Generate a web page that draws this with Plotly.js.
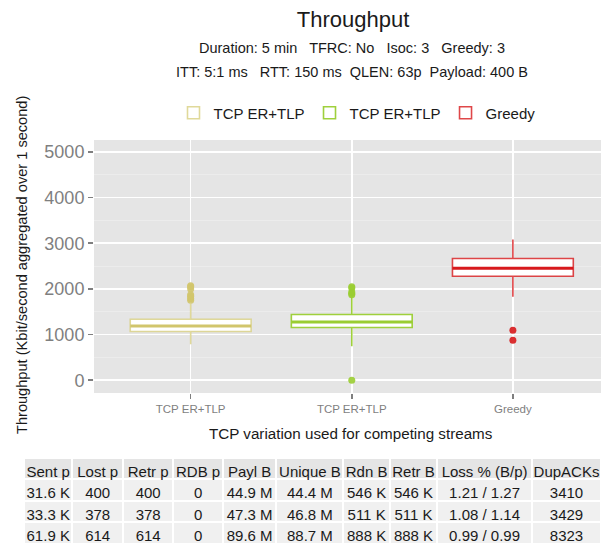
<!DOCTYPE html>
<html>
<head>
<meta charset="utf-8">
<script src="https://cdn.plot.ly/plotly-3.0.1.min.js"></script>
<style>html,body{margin:0;padding:0;background:#fff;}#chart{width:601px;height:549px;}</style>
</head>
<body>
<div id="chart"></div>
<script>
// ---- data ----
const categories = ['TCP ER+TLP', 'TCP ER+TLP', 'Greedy'];
const seriesNames = ['TCP ER+TLP', 'TCP ER+TLP', 'Greedy'];
const q1 = [1066, 1154, 2277];
const medians = [1189, 1277, 2452];
const q3 = [1335, 1438, 2664];
const lowerWhisker = [788, 744, 1825];
const upperWhisker = [1680, 1825, 3081];
const outliersTcp1 = [1750, 1790, 1840, 1870, 2000, 2044, 2070];
const outliersTcp2 = [1870, 1900, 1930, 2020, 2044, 0];
const outliersGreedy = [1095, 876];
const yTickValues = [0, 1000, 2000, 3000, 4000, 5000];

const tableHeader = ['Sent p', 'Lost p', 'Retr p', 'RDB p', 'Payl B', 'Unique B', 'Rdn B', 'Retr B', 'Loss % (B/p)', 'DupACKs'];
const sentP = ['31.6 K', '33.3 K', '61.9 K'];
const lostP = ['400', '378', '614'];
const retrP = ['400', '378', '614'];
const rdbP = ['0', '0', '0'];
const paylB = ['44.9 M', '47.3 M', '89.6 M'];
const uniqueB = ['44.4 M', '46.8 M', '88.7 M'];
const rdnB = ['546 K', '511 K', '888 K'];
const retrB = ['546 K', '511 K', '888 K'];
const lossPct = ['1.21 / 1.27', '1.08 / 1.14', '0.99 / 0.99'];
const dupAcks = ['3410', '3429', '8323'];

// ---- styles ----
const W = 601, H = 549;
const FONT = 'Liberation Sans, Arial, sans-serif';
const lineColors = ['rgba(214,204,120,0.75)', 'rgba(154,205,50,0.95)', 'rgba(215,25,28,0.8)'];
const solidColors = ['#d1c56c', '#9acd32', '#d7191c'];
const outlierSets = [outliersTcp1, outliersTcp2, outliersGreedy];
const xpos = categories.map((c, i) => i);
const nb = s => String(s).replace(/ /g, '\u00a0');

const traces = [];
categories.forEach((c, i) => {
  traces.push({
    type: 'box', name: seriesNames[i], x: [xpos[i]],
    q1: [q1[i]], median: [medians[i]], q3: [q3[i]],
    lowerfence: [lowerWhisker[i]], upperfence: [upperWhisker[i]],
    width: 0.75, fillcolor: '#ffffff',
    line: {color: lineColors[i], width: 1.6},
    whiskerwidth: 0, boxpoints: false, hoverinfo: 'skip'
  });
});
// thicker median lines
categories.forEach((c, i) => {
  traces.push({
    type: 'box', showlegend: false, x: [xpos[i]],
    q1: [medians[i]], median: [medians[i]], q3: [medians[i]],
    lowerfence: [medians[i]], upperfence: [medians[i]],
    width: 0.75, fillcolor: 'rgba(0,0,0,0)',
    line: {color: solidColors[i], width: 3},
    whiskerwidth: 0, boxpoints: false, hoverinfo: 'skip'
  });
});
// outliers
categories.forEach((c, i) => {
  traces.push({
    type: 'scatter', mode: 'markers', showlegend: false,
    x: outlierSets[i].map(() => xpos[i]), y: outlierSets[i],
    marker: {color: solidColors[i], size: 7, opacity: 0.9},
    hoverinfo: 'skip'
  });
});
// table
const tableCols = [sentP, lostP, retrP, rdbP, paylB, uniqueB, rdnB, retrB, lossPct, dupAcks];
traces.push({
  type: 'table',
  domain: {x: [24 / W, 1], y: [0, 1 - 458 / H]},
  columnwidth: [47, 49, 49, 48, 52, 65, 45, 46, 92, 67],
  header: {
    values: tableHeader.map(nb), align: 'center', height: 21,
    fill: {color: '#e5e5e5'}, line: {color: '#ffffff', width: 2},
    font: {family: FONT, size: 15, color: '#1a1a1a'}
  },
  cells: {
    values: tableCols.map(col => col.map(nb)),
    align: 'center', height: 21.5,
    fill: {color: '#f0f0f0'}, line: {color: '#ffffff', width: 2},
    font: {family: FONT, size: 15, color: '#1a1a1a'}
  }
});

const plotLeft = 94, plotTop = 140, plotBottom = 393;
const sp = '\u00a0';
const layout = {
  width: W, height: H,
  margin: {l: 0, r: 0, t: 0, b: 0},
  paper_bgcolor: '#ffffff', plot_bgcolor: '#e5e5e5',
  font: {family: FONT, color: '#1a1a1a'},
  title: {text: 'Throughput', x: 353 / W, xanchor: 'center', y: 1 - 19 / H, yanchor: 'middle', yref: 'container',
          font: {size: 22, color: '#1a1a1a'}},
  showlegend: true,
  legend: {orientation: 'h', x: 357 / W, xanchor: 'center', y: 1 - 113 / H, yanchor: 'middle',
           font: {size: 15, color: '#1a1a1a'}, bgcolor: 'rgba(0,0,0,0)'},
  xaxis: {
    domain: [plotLeft / W, 1], range: [-0.6, 2.547],
    tickmode: 'array', tickvals: xpos, ticktext: categories,
    showgrid: true, gridcolor: '#ffffff', gridwidth: 1.6, zeroline: false,
    ticks: 'outside', ticklen: 5, tickwidth: 1.5, tickcolor: '#7f7f7f',
    tickfont: {size: 11.5, color: '#7f7f7f'}, showline: false, fixedrange: true
  },
  yaxis: {
    domain: [1 - plotBottom / H, 1 - plotTop / H], range: [-280, 5260],
    tickmode: 'array', tickvals: yTickValues,
    showgrid: true, gridcolor: '#ffffff', gridwidth: 1.6, zeroline: false,
    minor: {dtick: 500, tick0: 500, showgrid: true, gridcolor: '#eeeeee', gridwidth: 0.8, ticks: ''},
    ticks: 'outside', ticklen: 5, tickwidth: 1.5, tickcolor: '#7f7f7f',
    tickfont: {size: 18, color: '#7f7f7f'}, showline: false, fixedrange: true
  },
  annotations: [
    {text: 'Duration: 5 min' + sp + sp + ' TFRC: No' + sp + sp + ' Isoc: 3' + sp + sp + ' Greedy: 3',
     xref: 'paper', yref: 'paper', x: 352 / W, y: 1 - 48 / H, xanchor: 'center', yanchor: 'middle',
     showarrow: false, font: {size: 14.5, color: '#1a1a1a'}},
    {text: 'ITT: 5:1 ms' + sp + sp + ' RTT: 150 ms' + sp + ' QLEN: 63p' + sp + ' Payload: 400 B',
     xref: 'paper', yref: 'paper', x: 352 / W, y: 1 - 72 / H, xanchor: 'center', yanchor: 'middle',
     showarrow: false, font: {size: 14.5, color: '#1a1a1a'}},
    {text: 'TCP variation used for competing streams',
     xref: 'paper', yref: 'paper', x: 351 / W, y: 1 - 433 / H, xanchor: 'center', yanchor: 'middle',
     showarrow: false, font: {size: 15.2, color: '#1a1a1a'}},
    {text: 'Throughput (Kbit/second aggregated over 1 second)', textangle: -90,
     xref: 'paper', yref: 'paper', x: 22 / W, y: 1 - 265 / H, xanchor: 'center', yanchor: 'middle',
     showarrow: false, font: {size: 14.6, color: '#1a1a1a'}}
  ]
};

Plotly.newPlot('chart', traces, layout, {staticPlot: true, displayModeBar: false});
</script>
</body>
</html>
